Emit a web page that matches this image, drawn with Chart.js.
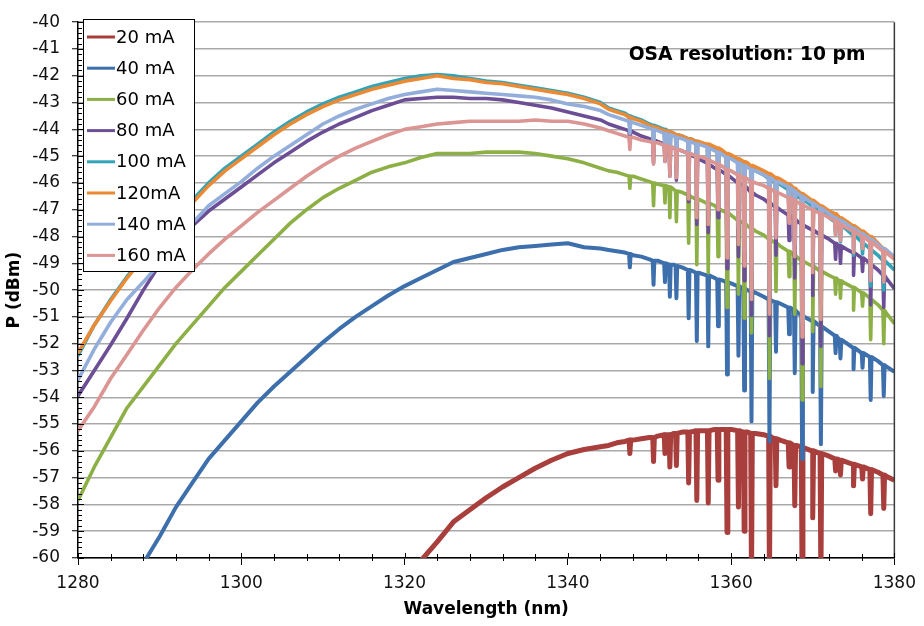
<!DOCTYPE html>
<html>
<head>
<meta charset="utf-8">
<script src="https://cdn.jsdelivr.net/npm/chart.js@4/dist/chart.umd.min.js"></script>
<style>
html,body{margin:0;padding:0;background:#fff;}
#wrap{width:924px;height:626px;position:relative;}
</style>
</head>
<body>
<div id="wrap"><canvas id="c" width="924" height="626"></canvas></div>
<script>
// ---------- DATA ----------
const wavelengths = [1280,1282,1284,1286,1288,1290,1292,1294,1296,1298,1300,1302,1304,1306,1308,1310,1312,1314,1316,1318,1320,1322,1324,1326,1328,1330,1332,1334,1336,1338,1340,1342,1344,
  1345,1346,1347,1348,1349,1350,1351,1352,1353,1354,1355,1356,1357,1358,1359,1360,1361,1362,1363,1364,1365,1366,1367,1368,1369,1370,1371,1372,1373,1374,1375,1376,1377,1378,1379,1380];

// water-vapour absorption line positions (nm)
const dipWavelengths = [1347.6,1350.5,1351.9,1352.5,1353.3,1354.8,1355.8,1357.2,1358.4,1359.5,1360.9,1361.6,1362.5,1364.7,1365.5,1367.1,1367.8,1368.7,1370.0,1371.0,1372.8,1373.4,1375.0,1376.1,1377.1,1378.7];

const seriesLabels = ['20 mA','40 mA','60 mA','80 mA','100 mA','120mA','140 mA','160 mA'];

// continuum spectra (dBm)
const p20 = [null,null,null,null,null,null,null,null,null,null,null,null,null,null,null,null,null,null,null,null,null,
  -60.1,-59.4,-58.65,-58.2,-57.75,-57.35,-57.0,-56.65,-56.35,-56.1,-55.95,-55.85,
  -55.8,-55.7,-55.65,-55.6,-55.55,-55.5,-55.45,-55.4,-55.35,-55.3,-55.3,-55.25,-55.25,-55.2,-55.2,-55.2,-55.25,-55.3,-55.35,-55.4,-55.5,-55.6,-55.7,-55.8,-55.9,-56.0,-56.1,-56.2,-56.3,-56.4,-56.5,-56.6,-56.7,-56.8,-56.95,-57.1];
const p40 = [null,null,null,null,
  -60.2,-59.2,-58.1,-57.2,-56.3,-55.6,-54.9,-54.2,-53.6,-53.05,-52.5,-51.95,-51.45,-51.0,-50.6,-50.2,-49.85,-49.55,-49.25,-48.95,-48.8,-48.65,-48.5,-48.4,-48.35,-48.3,-48.25,-48.4,-48.45,
  -48.5,-48.55,-48.6,-48.7,-48.75,-48.85,-48.9,-49.0,-49.05,-49.15,-49.25,-49.35,-49.45,-49.55,-49.65,-49.75,-49.85,-50.0,-50.1,-50.25,-50.4,-50.5,-50.65,-50.8,-51.0,-51.15,-51.35,-51.55,-51.75,-51.95,-52.15,-52.35,-52.5,-52.65,-52.85,-53.05];
const p60 = [-57.85,-56.6,-55.5,-54.4,-53.6,-52.8,-52.0,-51.3,-50.6,-49.9,-49.3,-48.7,-48.1,-47.5,-47.0,-46.55,-46.2,-45.9,-45.6,-45.4,-45.25,-45.05,-44.9,-44.9,-44.9,-44.85,-44.85,-44.85,-44.9,-45.0,-45.1,-45.25,-45.45,
  -45.55,-45.6,-45.7,-45.75,-45.85,-45.95,-46.05,-46.1,-46.25,-46.35,-46.5,-46.6,-46.75,-46.85,-47.05,-47.2,-47.4,-47.6,-47.8,-47.95,-48.15,-48.35,-48.55,-48.75,-48.95,-49.1,-49.3,-49.45,-49.6,-49.75,-49.9,-50.1,-50.3,-50.55,-50.85,-51.25];
const p80 = [-53.95,-53.0,-52.05,-51.05,-50.0,-49.05,-48.2,-47.6,-47.05,-46.6,-46.15,-45.7,-45.25,-44.85,-44.45,-44.1,-43.8,-43.55,-43.3,-43.1,-42.9,-42.85,-42.8,-42.8,-42.85,-42.85,-42.9,-43.0,-43.1,-43.2,-43.35,-43.5,-43.65,
  -43.8,-43.9,-44.0,-44.1,-44.25,-44.35,-44.45,-44.55,-44.7,-44.8,-44.95,-45.1,-45.25,-45.45,-45.6,-45.8,-46.0,-46.2,-46.45,-46.6,-46.8,-47.0,-47.2,-47.4,-47.6,-47.75,-47.95,-48.1,-48.3,-48.45,-48.6,-48.8,-49.0,-49.25,-49.55,-49.95];
const p100 = [-52.45,-51.3,-50.35,-49.5,-48.75,-48.0,-47.3,-46.65,-46.0,-45.45,-45.0,-44.55,-44.1,-43.7,-43.35,-43.05,-42.8,-42.6,-42.4,-42.25,-42.1,-42.0,-41.95,-42.0,-42.1,-42.2,-42.25,-42.35,-42.45,-42.55,-42.65,-42.8,-43.0,
  -43.2,-43.3,-43.4,-43.55,-43.65,-43.8,-43.9,-44.0,-44.15,-44.25,-44.35,-44.5,-44.6,-44.75,-44.9,-45.05,-45.2,-45.35,-45.55,-45.7,-45.9,-46.05,-46.25,-46.45,-46.65,-46.85,-47.05,-47.3,-47.5,-47.7,-47.95,-48.2,-48.45,-48.7,-48.95,-49.25];
const p120 = [-52.35,-51.3,-50.4,-49.55,-48.8,-48.1,-47.4,-46.75,-46.1,-45.55,-45.1,-44.65,-44.2,-43.8,-43.45,-43.15,-42.9,-42.7,-42.5,-42.35,-42.2,-42.1,-42.0,-42.1,-42.15,-42.25,-42.3,-42.4,-42.5,-42.6,-42.7,-42.85,-43.05,
  -43.25,-43.35,-43.45,-43.6,-43.7,-43.85,-43.95,-44.05,-44.15,-44.25,-44.35,-44.45,-44.55,-44.65,-44.8,-44.95,-45.1,-45.25,-45.4,-45.55,-45.7,-45.85,-46.05,-46.25,-46.45,-46.65,-46.85,-47.05,-47.2,-47.4,-47.6,-47.8,-48.0,-48.25,-48.5,-48.85];
const p140 = [-53.35,-52.2,-51.2,-50.35,-49.7,-49.0,-48.3,-47.5,-46.85,-46.4,-45.95,-45.45,-45.0,-44.6,-44.2,-43.8,-43.5,-43.25,-43.05,-42.85,-42.7,-42.6,-42.5,-42.55,-42.6,-42.65,-42.7,-42.75,-42.8,-42.9,-43.05,-43.15,-43.3,
  -43.45,-43.55,-43.65,-43.75,-43.85,-43.95,-44.05,-44.15,-44.25,-44.35,-44.45,-44.55,-44.65,-44.8,-44.95,-45.1,-45.25,-45.4,-45.55,-45.7,-45.85,-46.0,-46.15,-46.35,-46.55,-46.75,-46.95,-47.15,-47.35,-47.5,-47.7,-47.9,-48.1,-48.3,-48.5,-48.75];
const p160 = [-55.25,-54.35,-53.3,-52.4,-51.5,-50.65,-49.9,-49.25,-48.65,-48.1,-47.6,-47.1,-46.65,-46.2,-45.75,-45.35,-45.0,-44.7,-44.45,-44.2,-44.0,-43.9,-43.8,-43.75,-43.7,-43.7,-43.7,-43.7,-43.65,-43.7,-43.7,-43.8,-43.95,
  -44.05,-44.15,-44.25,-44.3,-44.4,-44.45,-44.5,-44.6,-44.7,-44.8,-44.9,-45.0,-45.1,-45.25,-45.4,-45.55,-45.7,-45.85,-46.0,-46.1,-46.25,-46.4,-46.55,-46.7,-46.85,-47.0,-47.15,-47.3,-47.45,-47.65,-47.8,-48.0,-48.2,-48.4,-48.6,-48.85];

// level just beside each absorption line (dBm)
const p20edge = [-55.6,-55.5,-55.4,-55.4,-55.35,-55.3,-55.25,-55.25,-55.2,-55.2,-55.25,-55.3,-55.35,-55.45,-55.55,-55.7,-55.8,-55.85,-56.0,-56.1,-56.3,-56.35,-56.5,-56.6,-56.7,-56.9];
const p40edge = [-48.65,-48.9,-49.0,-49.05,-49.1,-49.25,-49.35,-49.45,-49.6,-49.7,-49.85,-49.95,-50.05,-50.35,-50.45,-50.65,-50.75,-50.95,-51.15,-51.35,-51.7,-51.85,-52.15,-52.35,-52.5,-52.8];
const p60edge = [-45.75,-46.0,-46.1,-46.15,-46.3,-46.45,-46.6,-46.75,-46.95,-47.1,-47.4,-47.5,-47.7,-48.1,-48.25,-48.55,-48.7,-48.9,-49.1,-49.3,-49.55,-49.65,-49.9,-50.1,-50.35,-50.75];
const p80edge = [-44.05,-44.4,-44.55,-44.65,-44.75,-44.9,-45.05,-45.3,-45.5,-45.7,-46.0,-46.1,-46.35,-46.75,-46.9,-47.2,-47.35,-47.55,-47.75,-47.95,-48.25,-48.35,-48.6,-48.8,-49.05,-49.45];
const p100edge = [-43.5,-43.85,-44.0,-44.1,-44.2,-44.35,-44.45,-44.65,-44.8,-45.0,-45.2,-45.3,-45.45,-45.85,-46.0,-46.25,-46.4,-46.6,-46.85,-47.05,-47.45,-47.6,-47.95,-48.25,-48.5,-48.9];
const p120edge = [-43.55,-43.9,-44.05,-44.1,-44.2,-44.35,-44.45,-44.55,-44.7,-44.9,-45.1,-45.2,-45.35,-45.65,-45.8,-46.05,-46.2,-46.4,-46.65,-46.85,-47.15,-47.3,-47.6,-47.8,-48.0,-48.45];
const p140edge = [-43.7,-44.0,-44.15,-44.2,-44.3,-44.45,-44.55,-44.7,-44.85,-45.05,-45.25,-45.35,-45.5,-45.8,-45.95,-46.15,-46.3,-46.5,-46.75,-46.95,-47.3,-47.4,-47.7,-47.9,-48.1,-48.45];
const p160edge = [-44.3,-44.5,-44.6,-44.65,-44.75,-44.9,-45.0,-45.15,-45.3,-45.5,-45.7,-45.8,-45.95,-46.2,-46.35,-46.55,-46.65,-46.8,-47.0,-47.15,-47.4,-47.55,-47.8,-48.0,-48.2,-48.55];

// bottom of each absorption line (dBm)
const p20dips = [-56.1,-56.4,-56.1,-56.6,-56.55,-57.2,-57.85,-57.95,-57.1,-59.05,-58.1,-59.0,-61,-61,-57.3,-56.6,-58.05,-61,-58.5,-61,-56.75,-56.9,-57.3,-57.05,-58.35,-58.15];
const p40dips = [-49.15,-49.8,-49.7,-50.25,-50.3,-51.05,-51.9,-52.1,-51.35,-53.15,-52.45,-53.75,-54.9,-55.65,-52.3,-51.65,-53.1,-56.3,-53.8,-55.75,-52.35,-52.55,-52.95,-52.9,-54.1,-53.95];
const p60dips = [-46.2,-46.85,-46.75,-47.3,-47.45,-48.25,-49.05,-49.35,-48.75,-50.65,-50.15,-51.05,-51.6,-53.3,-50.05,-49.5,-50.9,-54.1,-51.55,-53.6,-50.15,-50.3,-50.75,-50.6,-51.85,-52.0];
const p80dips = [-44.55,-45.25,-45.2,-45.75,-45.9,-46.7,-47.55,-47.85,-47.3,-49.2,-48.75,-49.65,-50.95,-51.7,-48.7,-48.15,-49.55,-52.75,-50.2,-52.1,-48.85,-49.0,-49.45,-49.3,-50.55,-50.65];
const p100dips = [-43.9,-44.6,-44.6,-45.1,-45.2,-45.95,-46.7,-46.9,-46.45,-48.1,-47.65,-48.45,-49.6,-50.25,-47.6,-47.15,-48.35,-51.25,-49.05,-50.8,-47.95,-48.2,-48.7,-48.65,-49.85,-50.0];
const p120dips = [-43.95,-44.65,-44.65,-45.1,-45.2,-45.95,-46.65,-46.85,-46.35,-48.0,-47.55,-48.35,-49.5,-50.05,-47.4,-47.0,-48.15,-51.05,-48.85,-50.6,-47.7,-47.9,-48.35,-48.25,-49.4,-49.55];
const p140dips = [-44.15,-44.75,-44.75,-45.2,-45.3,-46.05,-46.75,-46.95,-46.5,-48.15,-47.7,-48.5,-49.65,-50.2,-47.55,-47.05,-48.25,-51.15,-48.95,-50.7,-47.8,-48.0,-48.45,-48.35,-49.5,-49.55];
const p160dips = [-44.75,-45.3,-45.2,-45.75,-45.8,-46.6,-47.3,-47.55,-47.0,-48.8,-48.3,-49.1,-50.35,-50.9,-48.05,-47.5,-48.75,-51.75,-49.35,-51.1,-47.95,-48.15,-48.6,-48.45,-49.65,-49.7];

const xTickValues = [1280,1300,1320,1340,1360,1380];
const annotationText = 'OSA resolution: 10 pm';

// ---------- STYLE ----------
const seriesColors = ['#A83F3C','#3D6FAD','#8DB046','#6C4E96','#33A3B8','#EB8A35','#93AEDB','#DB9593'];
const seriesWidths = [5,4,3.6,3.6,3.6,3.6,3.6,3.6];
const FONT = "'DejaVu Sans', 'Liberation Sans', Arial, sans-serif";
const LINE_HALF_WIDTH_NM = 0.1;

function buildPoints(base, edge, dips) {
  const pts = [];
  wavelengths.forEach((w, i) => { if (base[i] !== null) pts.push({x: w, y: base[i]}); });
  const first = pts.length ? pts[0].x : Infinity;
  dipWavelengths.forEach((w, i) => {
    if (w > first) {
      pts.push({x: w - LINE_HALF_WIDTH_NM, y: edge[i]});
      pts.push({x: w, y: dips[i]});
      pts.push({x: w + LINE_HALF_WIDTH_NM, y: edge[i]});
    }
  });
  pts.sort((a, b) => a.x - b.x);
  return pts;
}

const allBase = [p20,p40,p60,p80,p100,p120,p140,p160];
const allEdge = [p20edge,p40edge,p60edge,p80edge,p100edge,p120edge,p140edge,p160edge];
const allDips = [p20dips,p40dips,p60dips,p80dips,p100dips,p120dips,p140dips,p160dips];

const datasets = seriesLabels.map((lab, i) => ({
  label: lab,
  data: buildPoints(allBase[i], allEdge[i], allDips[i]),
  borderColor: seriesColors[i],
  backgroundColor: seriesColors[i],
  borderWidth: seriesWidths[i],
  borderJoinStyle: 'round',
  pointRadius: 0,
  tension: 0,
  fill: false,
  clip: 0,
  order: seriesLabels.length - 1 - i
}));

const decorations = {
  id: 'decorations',
  afterDraw(chart) {
    const ctx = chart.ctx;
    const {left, right, top, bottom} = chart.chartArea;
    const xs = chart.scales.x, ys = chart.scales.y;
    ctx.save();
    ctx.strokeStyle = '#3a3a3a';
    ctx.lineWidth = 1.5;
    ctx.beginPath(); ctx.moveTo(right, top); ctx.lineTo(right, bottom); ctx.stroke();
    ctx.strokeStyle = '#000';
    ctx.lineWidth = 1;
    for (let i = 0; i <= 100; i++) {
      const v = ys.min + i * 0.2;
      const py = Math.round(ys.getPixelForValue(v)) + 0.5;
      const len = (i % 5 === 0) ? 6 : 4;
      ctx.beginPath(); ctx.moveTo(left, py); ctx.lineTo(left + len, py); ctx.stroke();
    }
    for (let k = 0; k <= 25; k++) {
      const w = xs.min + k * 4;
      const px = Math.round(xs.getPixelForValue(w)) + 0.5;
      ctx.beginPath();
      if (k % 5 === 0) { ctx.moveTo(px, bottom - 5); ctx.lineTo(px, bottom); }
      else { ctx.moveTo(px, bottom - 4); ctx.lineTo(px, bottom + 3); }
      ctx.stroke();
    }
    const lx = 83, ly = 19, lw = 111, lh = 252;
    ctx.fillStyle = '#fff';
    ctx.fillRect(lx, ly, lw, lh);
    ctx.strokeStyle = '#000';
    ctx.lineWidth = 1;
    ctx.strokeRect(lx + 0.5, ly + 0.5, lw, lh);
    ctx.font = '18px ' + FONT;
    ctx.textBaseline = 'middle';
    ctx.textAlign = 'left';
    seriesLabels.forEach((lab, i) => {
      const cy = ly + 18 + i * 31.2;
      ctx.strokeStyle = seriesColors[i];
      ctx.lineWidth = 3;
      ctx.beginPath(); ctx.moveTo(87, cy); ctx.lineTo(115, cy); ctx.stroke();
      ctx.fillStyle = '#000';
      ctx.fillText(lab, 116, cy + 1);
    });
    ctx.font = 'bold 18.7px ' + FONT;
    ctx.textAlign = 'center';
    ctx.fillStyle = '#000';
    ctx.fillText(annotationText, 747, 55);
    ctx.restore();
  }
};

Chart.defaults.font.family = FONT;
Chart.defaults.color = '#111';

new Chart(document.getElementById('c'), {
  type: 'line',
  data: { datasets },
  options: {
    responsive: false,
    animation: false,
    devicePixelRatio: 1,
    events: [],
    layout: { padding: { top: 14, right: 25, left: 0, bottom: 0 } },
    plugins: { legend: { display: false }, tooltip: { enabled: false } },
    scales: {
      x: {
        type: 'linear',
        min: 1280, max: 1380,
        afterBuildTicks: (s) => { s.ticks = xTickValues.map(v => ({ value: v })); },
        ticks: { font: { size: 17 }, color: '#111', padding: 8, maxRotation: 0, callback: (v) => String(v) },
        grid: { display: true, drawOnChartArea: false, drawTicks: true, tickLength: 7, tickColor: '#000', tickWidth: 1 },
        border: { display: true, color: '#000', width: 1.5 },
        title: { display: true, text: 'Wavelength (nm)', font: { size: 17, weight: 'bold' }, color: '#000', padding: { top: 0, bottom: 6 } },
        afterFit: (s) => { s.height = 68; }
      },
      y: {
        type: 'linear',
        min: -60, max: -40,
        ticks: { stepSize: 1, font: { size: 17 }, color: '#111', padding: 12, callback: (v) => String(v) },
        grid: { color: '#a9a9a9', lineWidth: 1.5, drawTicks: true, tickLength: 6, tickColor: '#000', tickWidth: 1 },
        border: { display: true, color: '#000', width: 1.5 },
        title: { display: true, text: 'P (dBm)', font: { size: 17, weight: 'bold' }, color: '#000', padding: { top: 4, bottom: 4 } },
        afterFit: (s) => { s.width = 78; }
      }
    }
  },
  plugins: [decorations]
});
</script>
</body>
</html>
